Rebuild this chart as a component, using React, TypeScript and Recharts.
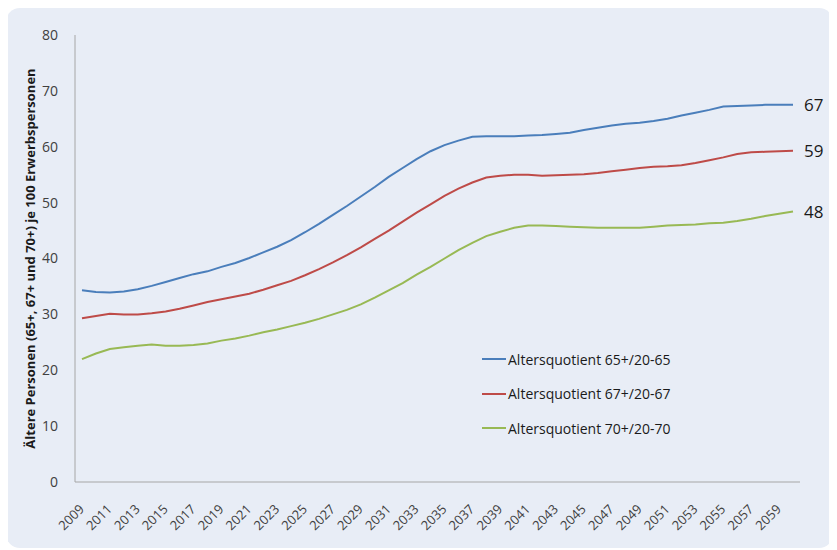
import { LineChart, Line, XAxis, YAxis, LabelList } from 'recharts';

const years = [
  2009, 2010, 2011, 2012, 2013, 2014, 2015, 2016, 2017, 2018, 2019, 2020, 2021,
  2022, 2023, 2024, 2025, 2026, 2027, 2028, 2029, 2030, 2031, 2032, 2033, 2034,
  2035, 2036, 2037, 2038, 2039, 2040, 2041, 2042, 2043, 2044, 2045, 2046, 2047,
  2048, 2049, 2050, 2051, 2052, 2053, 2054, 2055, 2056, 2057, 2058, 2059, 2060,
];

const quotient65 = [
  34.3, 34.0, 33.9, 34.1, 34.5, 35.1, 35.8, 36.5, 37.2, 37.7, 38.5, 39.2, 40.1,
  41.1, 42.1, 43.3, 44.7, 46.2, 47.8, 49.4, 51.1, 52.8, 54.6, 56.2, 57.8, 59.2,
  60.3, 61.1, 61.8, 61.9, 61.9, 61.9, 62.0, 62.1, 62.3, 62.5, 63.0, 63.4, 63.8,
  64.1, 64.3, 64.6, 65.0, 65.6, 66.1, 66.6, 67.2, 67.3, 67.4, 67.5, 67.5, 67.5,
];

const quotient67 = [
  29.3, 29.7, 30.1, 30.0, 30.0, 30.2, 30.5, 31.0, 31.6, 32.2, 32.7, 33.2, 33.7,
  34.4, 35.2, 36.0, 37.0, 38.1, 39.3, 40.6, 42.0, 43.5, 45.0, 46.6, 48.2, 49.7,
  51.2, 52.5, 53.6, 54.5, 54.8, 55.0, 55.0, 54.8, 54.9, 55.0, 55.1, 55.3, 55.6,
  55.9, 56.2, 56.4, 56.5, 56.7, 57.1, 57.6, 58.1, 58.7, 59.0, 59.1, 59.2, 59.3,
];

const quotient70 = [
  22.0, 23.0, 23.8, 24.1, 24.4, 24.6, 24.4, 24.4, 24.5, 24.8, 25.3, 25.7, 26.2,
  26.8, 27.3, 27.9, 28.5, 29.2, 30.0, 30.8, 31.8, 33.0, 34.3, 35.6, 37.1, 38.5,
  40.0, 41.5, 42.8, 44.0, 44.8, 45.5, 45.9, 45.9, 45.8, 45.7, 45.6, 45.5, 45.5,
  45.5, 45.5, 45.7, 45.9, 46.0, 46.1, 46.3, 46.4, 46.7, 47.1, 47.6, 48.0, 48.4,
];

const endLabels = ['67', '59', '48'];
const yTicks = [0, 10, 20, 30, 40, 50, 60, 70, 80];

const series = [
  { key: 'q65', name: 'Altersquotient 65+/20-65', color: '#4a7ebb', end: endLabels[0] },
  { key: 'q67', name: 'Altersquotient 67+/20-67', color: '#be4b48', end: endLabels[1] },
  { key: 'q70', name: 'Altersquotient 70+/20-70', color: '#98b954', end: endLabels[2] },
];

const data = years.map((year, i) => ({
  year,
  q65: quotient65[i],
  q67: quotient67[i],
  q70: quotient70[i],
}));

const FONT = '"Open Sans", "Noto Sans", sans-serif';

function XTick({ x, y, payload }: any) {
  return (
    <text
      x={x + 3}
      y={y + 20}
      transform={`rotate(-45 ${x + 3} ${y + 20})`}
      textAnchor="end"
      fontSize={13}
      fill="#404040"
      fontFamily={FONT}
    >
      {payload.value}
    </text>
  );
}

function YTitle({ viewBox }: any) {
  const cx = 24;
  const cy = viewBox.y + viewBox.height / 2;
  return (
    <text
      x={cx}
      y={cy}
      transform={`rotate(-90 ${cx} ${cy})`}
      textAnchor="middle"
      dominantBaseline="central"
      fontSize={13}
      fontWeight="bold"
      fill="#1a1a1a"
      fontFamily={FONT}
    >
      Ältere Personen (65+, 67+ und 70+) je 100 Erwerbspersonen
    </text>
  );
}

// legend drawn as an overlay so it doesn't shrink the plot
function LegendBox() {
  return (
    <div
      style={{
        position: 'absolute',
        left: 476,
        top: 334,
        fontFamily: FONT,
        fontSize: 14,
        color: '#1a1a1a',
      }}
    >
      {series.map((s) => (
        <div key={s.key} style={{ display: 'flex', alignItems: 'center', height: 34.5 }}>
          <span style={{ display: 'inline-block', width: 24, height: 2, background: s.color, marginRight: 2 }} />
          <span>{s.name}</span>
        </div>
      ))}
    </div>
  );
}

export default function App() {
  return (
    <div
      style={{
        position: 'relative',
        width: 827,
        height: 540,
        marginLeft: -2,
        background: '#e8edf6',
        borderRadius: 14,
      }}
    >
      <LineChart width={827} height={540} data={data} margin={{ top: 27, right: 33, bottom: 0, left: 0 }}>
        <XAxis
          dataKey="year"
          type="category"
          height={66}
          interval={1}
          tickLine={false}
          tick={<XTick />}
          padding={{ left: 7, right: 7 }}
          stroke="#a6a6a6"
        />
        <YAxis
          width={69}
          domain={[0, 80]}
          ticks={yTicks}
          tickLine={false}
          tickMargin={11}
          stroke="#a6a6a6"
          tick={{ fontSize: 14, fill: '#404040', fontFamily: FONT }}
          label={<YTitle />}
        />
        {series.map((s) => (
          <Line
            key={s.key}
            dataKey={s.key}
            name={s.name}
            stroke={s.color}
            strokeWidth={2}
            dot={false}
            type="linear"
            isAnimationActive={false}
          >
            <LabelList
              dataKey={s.key}
              content={(p: any) =>
                p.index === years.length - 1 ? (
                  <text
                    x={p.x + 11}
                    y={p.y}
                    dominantBaseline="central"
                    fontSize={17}
                    fill="#1a1a1a"
                    fontFamily={FONT}
                  >
                    {s.end}
                  </text>
                ) : null
              }
            />
          </Line>
        ))}
      </LineChart>
      <LegendBox />
    </div>
  );
}
